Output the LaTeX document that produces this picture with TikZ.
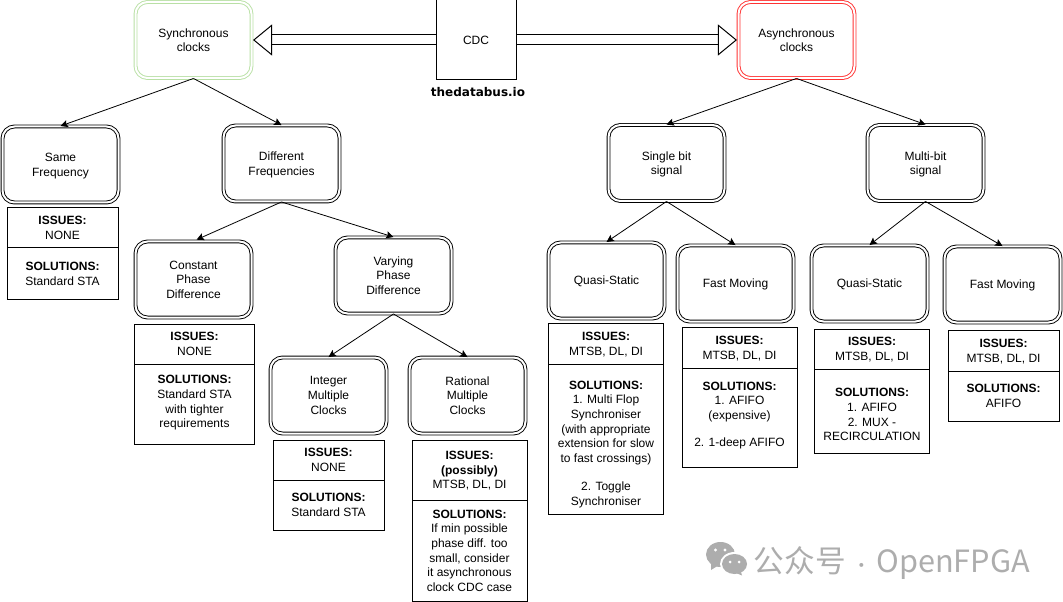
\documentclass[tikz,border=0pt]{standalone}
\usepackage{fontspec}
\setmainfont{Liberation Sans}
\newfontfamily\cjk{Noto Sans CJK SC}
\newfontfamily\brandfont{DejaVu Sans}
\usetikzlibrary{arrows.meta}
\definecolor{syncgreen}{HTML}{B9E0A5}
\definecolor{asyncred}{HTML}{FF3333}
\definecolor{markgrey}{HTML}{ADADAD}
\tikzset{
  every node/.style={font=\fontsize{9}{11}\selectfont, align=center, inner sep=0pt, text depth=-0.8pt},
  oneline/.style={text depth=0pt},
  clockbox/.style={draw, rounded corners=9pt, double, double distance=1.5pt, line width=0.7pt,
    minimum width=87pt, minimum height=57pt},
  cell/.style 2 args={draw, line width=0.75pt, minimum width=#1*0.75pt, minimum height=#2*0.75pt},
  branch/.style={-{Stealth[length=5.5pt,width=5.5pt,inset=1pt]}, line width=0.6pt},
  blockarrow/.style={double, double distance=6.75pt, line width=0.75pt, shorten >=0.8pt,
    -{Triangle[fill=white,length=14.25pt,width=23.25pt,line width=0.75pt]}}
}
\begin{document}
\begin{tikzpicture}[x=0.75pt,y=-0.75pt]
      \useasboundingbox (0,0) rectangle (1063,602);
      \draw
        (476,40) node[cell={80}{80}, oneline] (cdc){CDC}
        (478,92) node[oneline] (brand){\brandfont\bfseries thedatabus.io}
        (193.5,40) node[clockbox, double=white, draw=syncgreen] (sync){Synchronous\\clocks}
        (796.5,40) node[clockbox, draw=asyncred] (async){Asynchronous\\clocks}
        (60.5,164.5) node[clockbox] (same){Same\\Frequency}
        (281.5,163.5) node[clockbox] (different){Different\\Frequencies}
        (193.5,279.5) node[clockbox] (constant){Constant\\Phase\\Difference}
        (393.5,275.5) node[clockbox] (varying){Varying\\Phase\\Difference}
        (328.5,395.5) node[clockbox] (integer){Integer\\Multiple\\Clocks}
        (467.5,395.5) node[clockbox] (rational){Rational\\Multiple\\Clocks}
        (666.5,163) node[clockbox] (single){Single bit\\signal}
        (925.5,163) node[clockbox] (multi){Multi-bit\\signal}
        (606.5,280.5) node[clockbox, oneline] (quasia){Quasi-Static}
        (735.5,283.5) node[clockbox, oneline] (fasta){Fast Moving}
        (869.5,283.5) node[clockbox, oneline] (quasib){Quasi-Static}
        (1002.5,284.5) node[clockbox, oneline] (fastb){Fast Moving};
      \draw
        (62.5,228) node[cell={111}{40}] (sameissues){\textbf{ISSUES:}\\NONE}
        (62.5,273.5) node[cell={111}{51}] (samefix){\textbf{SOLUTIONS:}\\Standard STA}
        (194.5,344) node[cell={120}{40}] (constantissues){\textbf{ISSUES:}\\NONE}
        (194.5,404) node[cell={120}{80}, text depth=3.7pt] (constantfix){\textbf{SOLUTIONS:}\\Standard STA\\with tighter\\requirements}
        (328.5,460) node[cell={111}{40}] (integerissues){\textbf{ISSUES:}\\NONE}
        (328.5,505) node[cell={111}{50}] (integerfix){\textbf{SOLUTIONS:}\\Standard STA}
        (469.5,470) node[cell={115}{60}] (rationalissues){\textbf{ISSUES:}\\\textbf{(possibly)}\\MTSB, DL, DI}
        (469.5,550.5) node[cell={115}{101}] (rationalfix){\textbf{SOLUTIONS:}\\If min possible\\phase diff. too\\small, consider\\it asynchronous\\clock CDC case}
        (606,343.5) node[cell={115}{41}] (quasiaissues){\textbf{ISSUES:}\\MTSB, DL, DI}
        (606,439) node[cell={115}{150}] (quasiafix){\rule{0pt}{12.4pt}\textbf{SOLUTIONS:}\\1. Multi Flop\\Synchroniser\\(with appropriate\\extension for slow\\to fast crossings)\\[10pt]2. Toggle\\Synchroniser}
        (739.5,347.5) node[cell={115}{41}] (fastaissues){\textbf{ISSUES:}\\MTSB, DL, DI}
        (739.5,417.5) node[cell={115}{99}, text depth=5.2pt] (fastafix){\textbf{SOLUTIONS:}\\1. AFIFO\\(expensive)\\[9pt]2. 1-deep AFIFO}
        (872,349) node[cell={115}{40}] (quasibissues){\textbf{ISSUES:}\\MTSB, DL, DI}
        (872,411) node[cell={115}{84}] (quasibfix){\rule{0pt}{11.9pt}\textbf{SOLUTIONS:}\\1. AFIFO\\2. MUX -\\RECIRCULATION}
        (1003.5,350.5) node[cell={111}{41}] (fastbissues){\textbf{ISSUES:}\\MTSB, DL, DI}
        (1003.5,396) node[cell={111}{50}] (fastbfix){\textbf{SOLUTIONS:}\\AFIFO};
      \begin{scope}[branch]
        \draw (sync.south) to (same.north);
        \draw (sync.south) to (different.north);
        \draw (async.south) to (single.north);
        \draw (async.south) to (multi.north);
        \draw[shorten >=2.5pt] (different.south) to (constant.north);
        \draw (different.south) to (varying.north);
        \draw (varying.south) to (integer.north);
        \draw (varying.south) to (rational.north);
        \draw (single.south) to (quasia.north);
        \draw (single.south) to (fasta.north);
        \draw (multi.south) to (quasib.north);
        \draw (multi.south) to (fastb.north);
      \end{scope}
      \draw[blockarrow] (cdc.west) to (sync.east);
      \draw[blockarrow] (cdc.east) to (async.west);
      \begin{scope}[markgrey]
        \fill (720.5,554.5) ellipse (14.5 and 12.5);
        \fill (711,563) -- (711,570) -- (719,565) -- cycle;
        \fill[white] (734.5,564) ellipse (14.5 and 12);
        \fill (734.5,564) ellipse (12.5 and 10);
        \fill (741,572) -- (742,575.5) -- (736,573) -- cycle;
        \fill[white] (715.5,550) circle (1.7) (725,550) circle (1.7);
        \fill[white] (730,562) circle (1.5) (739,562) circle (1.5);
        \node[text=markgrey, font=\cjk\fontsize{23}{24}\selectfont, anchor=west, oneline] (mark)
          at (753.5,560) {公众号\kern5pt{\fontsize{14}{24}\selectfont ·}\kern4pt OpenFPGA};
      \end{scope}
    \end{tikzpicture}
\end{document}
